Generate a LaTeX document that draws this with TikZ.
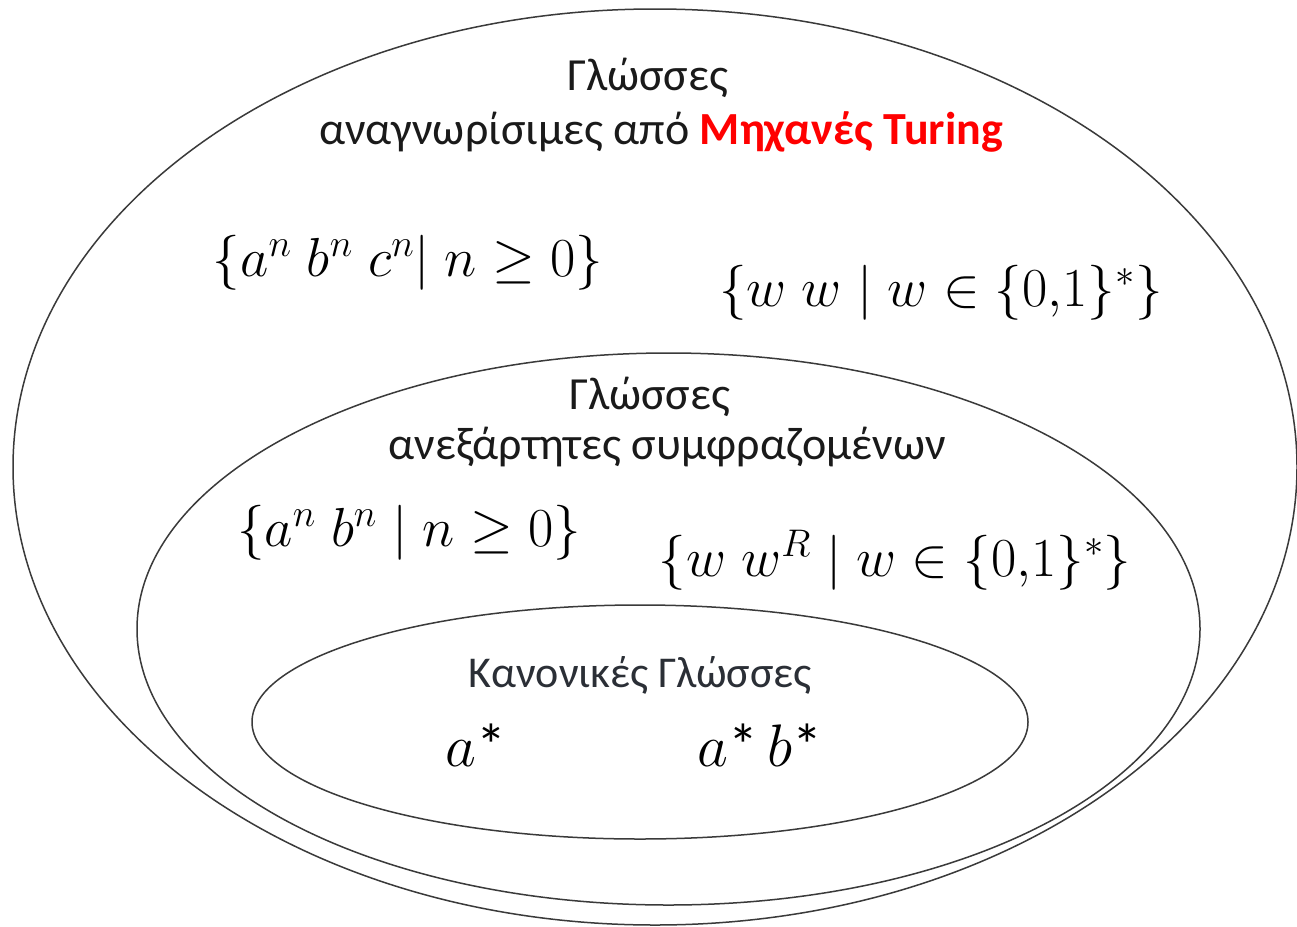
\RequirePackage{fix-cm}
\documentclass[tikz,border=0pt]{standalone}
\usepackage{amsmath}
\usepackage{fontspec}
\setmainfont{Carlito}
\definecolor{lineg}{HTML}{3A3A3A}
\definecolor{tred}{HTML}{FF0000}
\definecolor{tdark}{HTML}{1A1A1A}
\definecolor{tgrey}{HTML}{2B2F36}
\begin{document}
\begin{tikzpicture}[x=1pt,y=-1pt,
  setline/.style={draw=lineg,line width=1.5pt},
  title/.style={font=\fontsize{46}{54}\selectfont,text=tdark,inner sep=0pt,align=center},
  smalltitle/.style={font=\fontsize{44}{52}\selectfont,text=tgrey,inner sep=0pt},
  expr/.style={font=\fontsize{55}{64}\selectfont,inner sep=0pt},
  bigexpr/.style={font=\fontsize{60}{68}\selectfont,inner sep=0pt}]
\useasboundingbox (0,0) rectangle (1297,926);
\fill[white] (0,0) rectangle (1297,926);
\draw[setline] (655,467) ellipse [x radius=642, y radius=458];
\draw[setline] (668.5,629) ellipse [x radius=531.5, y radius=276];
\draw[setline] (640,722) ellipse [x radius=388, y radius=117];
\node[title] (t1) at (648,78) {Γλώσσες};
\node[title] (t2) at (661,132) {αναγνωρίσιμες από \textcolor{tred}{\textbf{Μηχανές Turing}}};
\node[expr] (e1) at (408,263) {$\{a^n\;b^n\;c^n|\;n\geq 0\}$};
\node[expr] (e2) at (941,293) {$\{w\;w\;|\;w\in\{0{,}1\}^*\}$};
\node[title] (t3) at (650,397) {Γλώσσες};
\node[title] (t4) at (667,447) {ανεξάρτητες συμφραζομένων};
\node[expr] (e3) at (409,533) {$\{a^n\;b^n\;|\;n\geq 0\}$};
\node[expr] (e4) at (895,560) {$\{w\;w^R\;|\;w\in\{0{,}1\}^*\}$};
\node[smalltitle] (t5) at (640,675) {Κανονικές Γλώσσες};
\node[bigexpr] (e5) at (476,745) {$a$*};
\node[bigexpr] (e6) at (760,745) {$a$*\,$b$*};
\end{tikzpicture}
\end{document}
